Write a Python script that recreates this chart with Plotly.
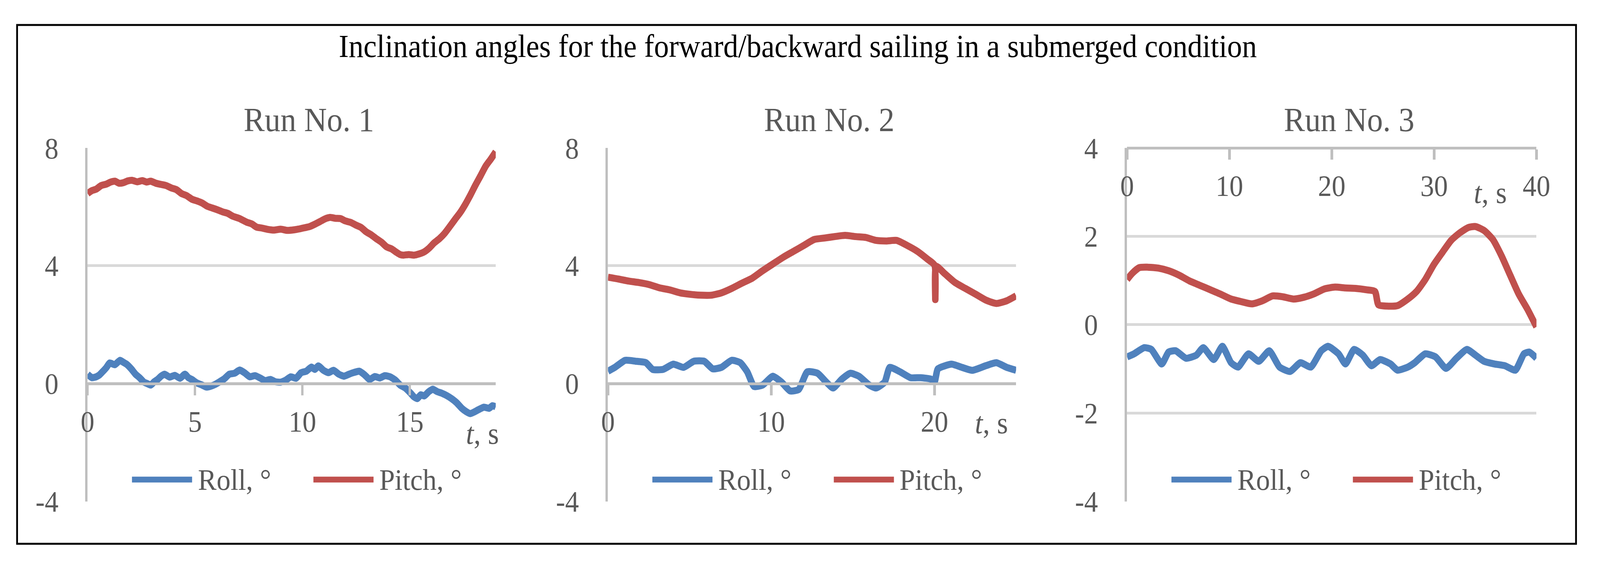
import plotly.graph_objects as go

# ---------------- data ----------------
run_titles = ["Run No. 1", "Run No. 2", "Run No. 3"]
series_names = ["Roll, °", "Pitch, °"]

# Run 1
t1_pitch = [0, 0.2, 0.4, 0.63, 0.87, 1.07, 1.27, 1.47, 1.67, 1.87, 2.07, 2.31, 2.55, 2.75,
            2.94, 3.18, 3.42, 3.66, 3.9, 4.14, 4.37, 4.61, 4.85, 5.09, 5.33, 5.57, 5.8, 6.04,
            6.28, 6.52, 6.76, 7.08, 7.4, 7.64, 7.87, 8.11, 8.35, 8.67, 8.99, 9.3, 9.62, 9.86,
            10.1, 10.34, 10.58, 10.82, 11.05, 11.29, 11.53, 11.77, 12.0, 12.25, 12.49, 12.73,
            12.97, 13.2, 13.44, 13.68, 13.92, 14.15, 14.39, 14.55, 14.71, 14.95, 15.19, 15.43,
            15.67, 15.9, 16.14, 16.38, 16.62, 16.86, 17.1, 17.34, 17.58, 17.82, 18.05, 18.29,
            18.53, 18.77, 19.0]
pitch1 = [6.45, 6.55, 6.6, 6.72, 6.77, 6.84, 6.87, 6.8, 6.82, 6.88, 6.9, 6.85, 6.89, 6.84,
          6.87, 6.8, 6.76, 6.72, 6.64, 6.58, 6.45, 6.38, 6.26, 6.2, 6.13, 6.02, 5.96, 5.9,
          5.83, 5.78, 5.68, 5.6, 5.48, 5.42, 5.31, 5.28, 5.24, 5.21, 5.24, 5.2, 5.22, 5.25,
          5.29, 5.33, 5.41, 5.5, 5.59, 5.64, 5.61, 5.6, 5.52, 5.47, 5.38, 5.3,
          5.15, 5.05, 4.92, 4.8, 4.64, 4.57, 4.45, 4.38, 4.36, 4.38, 4.36, 4.4,
          4.47, 4.6, 4.78, 4.92, 5.1, 5.33, 5.57, 5.8, 6.08, 6.4, 6.73, 7.05,
          7.38, 7.62, 7.87]
t1_roll = [0, 0.2, 0.4, 0.56, 0.72, 0.88, 1.03, 1.27, 1.51, 1.67, 1.83, 2.03, 2.23, 2.42,
           2.62, 2.78, 2.94, 3.1, 3.26, 3.42, 3.58, 3.82, 4.06, 4.3, 4.53, 4.69, 4.85, 5.09,
           5.33, 5.53, 5.73, 5.93, 6.12, 6.36, 6.6, 6.84, 7.08, 7.32, 7.55, 7.79, 8.03, 8.27,
           8.51, 8.75, 8.99, 9.23, 9.46, 9.7, 9.94, 10.18, 10.42, 10.58, 10.74, 10.98, 11.21,
           11.45, 11.69, 11.93, 12.17, 12.41, 12.65, 12.89, 13.13, 13.37, 13.6, 13.84, 14.08,
           14.32, 14.55, 14.79, 15.03, 15.19, 15.35, 15.51, 15.67, 15.87, 16.07, 16.27, 16.46,
           16.7, 16.94, 17.18, 17.42, 17.62, 17.81, 18.01, 18.21, 18.45, 18.69, 18.85, 19.0]
roll1 = [0.32, 0.2, 0.23, 0.3, 0.42, 0.55, 0.7, 0.64, 0.79, 0.72, 0.65, 0.5, 0.32, 0.2,
         0.05, 0.0, -0.05, 0.06, 0.14, 0.25, 0.32, 0.22, 0.28, 0.18, 0.32, 0.2, 0.14, 0.02,
         -0.05, -0.12, -0.09, -0.03, 0.05, 0.16, 0.32, 0.35, 0.46, 0.36, 0.23, 0.27, 0.19, 0.1,
         0.14, 0.06, 0.05, 0.12, 0.23, 0.18, 0.37, 0.42, 0.56, 0.48, 0.6, 0.45, 0.37,
         0.45, 0.32, 0.25, 0.32, 0.38, 0.42, 0.3, 0.14, 0.24, 0.19, 0.27, 0.23,
         0.12, -0.05, -0.15, -0.32, -0.45, -0.51, -0.38, -0.42, -0.28, -0.19, -0.27, -0.32,
         -0.4, -0.51, -0.65, -0.84, -0.95, -1.02, -0.96, -0.88, -0.8, -0.84, -0.75, -0.79]

# Run 2
t2_pitch = [0, 0.63, 1.26, 1.89, 2.53, 3.16, 3.79, 4.42, 5.05, 5.68, 6.32, 6.95, 7.58, 8.21,
            8.84, 9.47, 10.1, 10.74, 11.37, 12.0, 12.63, 13.26, 13.89, 14.53, 15.16, 15.79,
            16.42, 17.05, 17.68, 18.32, 18.95, 19.58, 20.0, 20.05, 20.1, 20.63, 21.26, 21.89,
            22.53, 23.16, 23.79, 24.42, 25.0]
pitch2 = [3.61, 3.55, 3.48, 3.43, 3.36, 3.25, 3.18, 3.08, 3.03, 3.0, 3.0, 3.08, 3.23, 3.41,
          3.58, 3.83, 4.06, 4.29, 4.49, 4.69, 4.89, 4.94, 4.99, 5.03, 4.99, 4.96,
          4.86, 4.84, 4.86, 4.69, 4.49, 4.22, 4.02, 2.85, 3.98, 3.73, 3.43, 3.23,
          3.03, 2.83, 2.72, 2.81, 2.98]
t2_roll = [0, 0.42, 1.05, 1.68, 2.32, 2.74, 3.37, 4.0, 4.63, 5.26, 5.89, 6.42, 6.95, 7.58,
           8.1, 8.53, 8.95, 9.47, 10.1, 10.63, 11.16, 11.68, 12.21, 12.84, 13.37, 13.79,
           14.32, 14.84, 15.37, 16.0, 16.42, 16.95, 17.26, 17.89, 18.53, 19.16, 19.79, 20.0,
           20.21, 21.05, 21.68, 22.32, 23.16, 23.79, 24.42, 25.0]
roll2 = [0.42, 0.55, 0.79, 0.76, 0.71, 0.48, 0.48, 0.66, 0.55, 0.76, 0.76, 0.5, 0.55, 0.79,
         0.71, 0.4, -0.1, -0.05, 0.25, 0.05, -0.25, -0.2, 0.4, 0.35, 0.05, -0.15,
         0.15, 0.35, 0.25, -0.05, -0.15, 0.05, 0.55, 0.4, 0.2, 0.2, 0.15, 0.05,
         0.5, 0.66, 0.55, 0.45, 0.61, 0.71, 0.55, 0.45]

# Run 3
t3_pitch = [0, 0.5, 1.19, 2.03, 3.05, 4.06, 5.08, 6.1, 7.11, 8.13, 9.14, 10.16, 11.18, 12.19,
            13.21, 14.23, 15.24, 16.26, 17.27, 18.29, 19.3, 20.32, 21.34, 22.35, 23.37, 24.22,
            24.56, 25.4, 26.42, 27.43, 28.28, 29.13, 29.97, 30.82, 31.67, 32.52, 33.36, 34.04,
            34.89, 35.73, 36.58, 37.43, 38.27, 39.12, 40.0]
pitch3 = [1.02, 1.16, 1.29, 1.3, 1.28, 1.22, 1.12, 0.99, 0.89, 0.79, 0.69, 0.58, 0.52, 0.47,
          0.54, 0.65, 0.63, 0.58, 0.62, 0.7, 0.81, 0.85, 0.83, 0.82, 0.79, 0.75,
          0.45, 0.42, 0.43, 0.58, 0.75, 1.02, 1.36, 1.64, 1.91, 2.08, 2.2, 2.22,
          2.13, 1.93, 1.56, 1.12, 0.69, 0.35, -0.05]
t3_roll = [0, 0.68, 1.69, 2.37, 3.39, 4.06, 4.74, 5.76, 6.77, 7.45, 8.47, 9.31, 10.16, 10.84,
           11.86, 12.87, 13.89, 14.9, 15.92, 16.94, 17.95, 18.97, 19.64, 20.66, 21.34, 22.18,
           23.03, 23.88, 24.72, 25.74, 26.42, 27.43, 28.11, 29.13, 30.14, 31.16, 32.18, 33.2,
           34.04, 34.89, 35.9, 36.92, 37.94, 38.78, 39.3, 40.0]
roll3 = [-0.73, -0.66, -0.52, -0.56, -0.89, -0.62, -0.59, -0.76, -0.69, -0.52, -0.79, -0.49,
         -0.86, -0.96, -0.66, -0.83, -0.59, -0.96, -1.06, -0.86, -0.96, -0.59, -0.49, -0.66,
         -0.89, -0.56, -0.69, -0.93, -0.79, -0.89, -1.03, -0.96, -0.86, -0.66, -0.73, -0.99,
         -0.76, -0.56, -0.69, -0.83, -0.89, -0.93, -1.03, -0.66, -0.62, -0.76]

x_ranges = [[0, 19], [0, 25], [0, 40]]
x_ticks = [[0, 5, 10, 15], [0, 10, 20], [0, 10, 20, 30, 40]]
y_ranges = [[-4, 8], [-4, 8], [-4, 4]]
y_ticks = [[-4, 0, 4, 8], [-4, 0, 4, 8], [-4, -2, 0, 2, 4]]
y_ticktext = [["-4", "0", "4", "8"], ["-4", "0", "4", "8"], ["-4", "-2", "0", "2", "4"]]
x_axis_at = [0, 0, 4]   # value of y where the time axis crosses

main_title = "Inclination angles for the forward/backward sailing in a submerged condition"
axis_label = "<i>t</i>, s"

# ---------------- styling ----------------
W, H = 4413, 1463
BLUE = "#4F81BD"
RED = "#C0504D"
GRID = "#D9D9D9"
AXIS = "#BFBFBF"
TXT = "#595959"
FONT = "Palatino Linotype, Book Antiqua, Palatino, Liberation Serif, serif"


def px_x(p):
    return p / W


def px_y(p):
    return 1 - p / H


plot_left = [225.5, 1679.6, 3130.0]
plot_right = [1366.0, 2820.0, 4274.0]
plot_top, plot_bottom = 358.5, 1319.5
y_dom = [px_y(plot_bottom), px_y(plot_top)]

fig = go.Figure()

data = [
    (t1_roll, roll1, t1_pitch, pitch1),
    (t2_roll, roll2, t2_pitch, pitch2),
    (t3_roll, roll3, t3_pitch, pitch3),
]

for i, (tr, r, tp, p) in enumerate(data):
    n = "" if i == 0 else str(i + 1)
    fig.add_trace(go.Scatter(x=tr, y=r, mode="lines", name=series_names[0],
                             line=dict(color=BLUE, width=18, shape="spline", smoothing=0.5),
                             showlegend=False, xaxis="x" + n, yaxis="y" + n))
    fig.add_trace(go.Scatter(x=tp, y=p, mode="lines", name=series_names[1],
                             line=dict(color=RED, width=18, shape="spline", smoothing=0.6),
                             showlegend=False, xaxis="x" + n, yaxis="y" + n))

    ymin, ymax = y_ranges[i]
    pos = y_dom[0] + (x_axis_at[i] - ymin) / (ymax - ymin) * (y_dom[1] - y_dom[0])
    fig.layout["xaxis" + n] = dict(
        domain=[px_x(plot_left[i]), px_x(plot_right[i])],
        range=x_ranges[i], tickvals=x_ticks[i], anchor="free", position=pos,
        side="bottom", showgrid=False, zeroline=False,
        showline=True, linecolor=AXIS, linewidth=7,
        ticks="outside", ticklen=26, tickwidth=7, tickcolor=AXIS,
        ticklabelstandoff=2,
        tickfont=dict(family=FONT, size=76, color=TXT),
    )
    fig.layout["yaxis" + n] = dict(
        domain=y_dom, range=y_ranges[i], tickvals=y_ticks[i], ticktext=y_ticktext[i],
        anchor="x" + n, showgrid=True, gridcolor=GRID, gridwidth=7,
        zeroline=False, showline=True, linecolor=AXIS, linewidth=7,
        ticks="", ticklabelstandoff=58,
        tickfont=dict(family=FONT, size=76, color=TXT),
    )

    # panel title
    fig.add_annotation(text=run_titles[i], xref="paper", yref="paper",
                       x=px_x((plot_left[i] + plot_right[i]) / 2 + 48), y=px_y(282),
                       xanchor="center", yanchor="middle", showarrow=False,
                       font=dict(family=FONT, size=87, color=TXT))

    # legend (one per panel)
    ly = px_y(1260)
    for k, (col, name) in enumerate([(BLUE, series_names[0]), (RED, series_names[1])]):
        x0 = plot_left[i] + 124 + k * 507
        fig.add_shape(type="line", xref="paper", yref="paper",
                      x0=px_x(x0), x1=px_x(x0 + 168), y0=ly, y1=ly,
                      line=dict(color=col, width=15))
        fig.add_annotation(text=name, xref="paper", yref="paper",
                           x=px_x(x0 + 182), y=ly, xanchor="left", yanchor="middle",
                           showarrow=False, font=dict(family=FONT, size=77, color=TXT))

# time-axis labels
t_label_pos = [(1377, 1135), (2799, 1106), (4193, 480)]
for (xp, yp) in t_label_pos:
    fig.add_annotation(text=axis_label, xref="paper", yref="paper",
                       x=px_x(xp), y=px_y(yp), xanchor="right", yanchor="middle",
                       showarrow=False, font=dict(family=FONT, size=78, color=TXT))

# main title
fig.add_annotation(text=main_title, xref="paper", yref="paper",
                   x=px_x(2210), y=px_y(82), xanchor="center", yanchor="middle",
                   showarrow=False, font=dict(family=FONT, size=82, color="black"))

# outer frame
fig.add_shape(type="rect", xref="paper", yref="paper",
              x0=px_x(28.5), x1=px_x(4384.5), y0=px_y(1434.5), y1=px_y(24.5),
              line=dict(color="black", width=5), layer="above")

fig.update_layout(width=W, height=H, autosize=False,
                  margin=dict(l=0, r=0, t=0, b=0),
                  paper_bgcolor="white", plot_bgcolor="white",
                  showlegend=False)

# make the fixed-size figure fill the browser viewport exactly
fit_js = """
(function(){
  var gd = document.getElementById('{plot_id}');
  if (!gd) return;
  var de = document.documentElement, b = document.body;
  de.style.margin = '0'; de.style.padding = '0'; de.style.overflow = 'hidden';
  b.style.margin = '0'; b.style.padding = '0'; b.style.overflow = 'hidden';
  function fit(){
    var w = window.innerWidth, h = window.innerHeight;
    if (!w || !h || w < 100 || h < 100) return;
    var p = gd.parentElement;
    p.style.width = w + 'px'; p.style.height = h + 'px'; p.style.overflow = 'hidden';
    gd.style.transformOrigin = '0 0';
    gd.style.transform = 'scale(' + (w / %d) + ',' + (h / %d) + ')';
  }
  fit();
  window.addEventListener('resize', fit);
})();
""" % (W, H)

fig.write_html("out.html", post_script=fit_js, config={"displayModeBar": False})
